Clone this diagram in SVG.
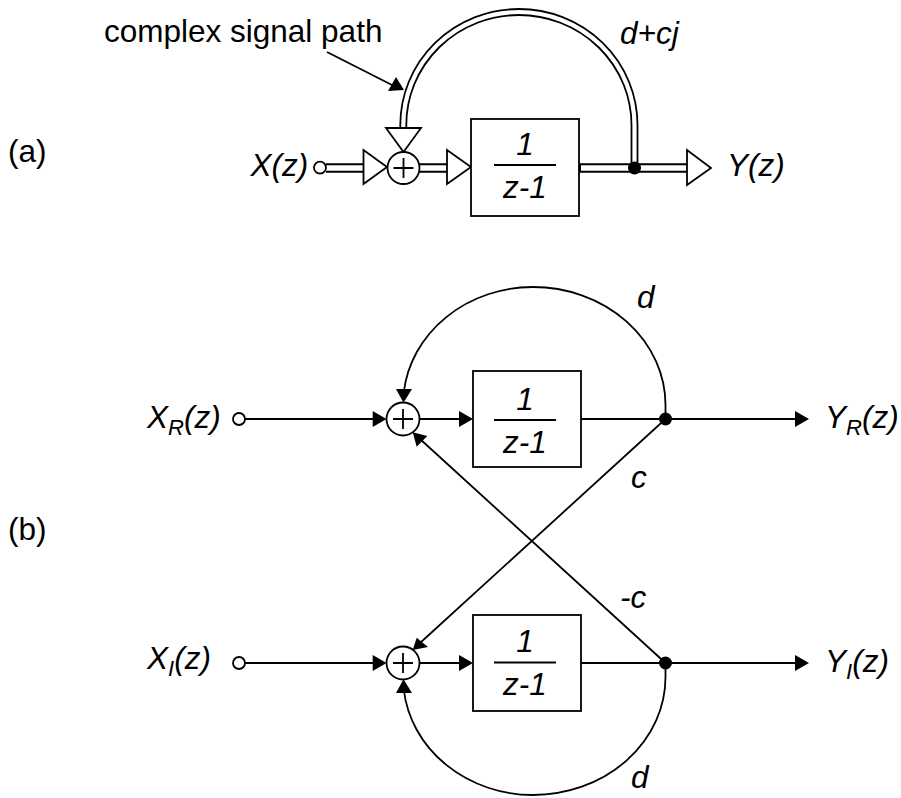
<svg xmlns="http://www.w3.org/2000/svg" width="901" height="798" viewBox="0 0 901 798">
<style>
text{font-family:"Liberation Sans",Arial,sans-serif;font-size:31.5px;fill:#000}
.i{font-style:italic}
.s{font-size:22px;font-style:italic}
.l{fill:none;stroke:#000;stroke-width:1.8}
.f{fill:#fff;stroke:#000;stroke-width:1.8}
.a{fill:#000;stroke:none}
.bh{fill:none;stroke:#000;stroke-width:9.5}
.wh{fill:none;stroke:#fff;stroke-width:5.5}
.ba{fill:none;stroke:#000;stroke-width:7.8}
.wa{fill:none;stroke:#fff;stroke-width:4.2}
</style>
<rect width="901" height="798" fill="#fff"/>
<g id="connectors">
<path class="bh" d="M326 168H364M419 168H448M579 168H688"/>
<path class="wh" d="M324 168H364M419 168H448M581 168H688"/>
<path class="ba" d="M403.300 129V125A115.600 113 0 0 1 634.500 125V168"/>
<path class="wa" d="M403.300 129V125A115.600 113 0 0 1 634.500 125V164"/>
<path class="l" d="M327 52L392 85"/>
<polygon class="a" points="404,90 388,91 396,77"/>
<path class="l" d="M245 419H375M420 419H460M581 419H797M245 663H375M420 663H460M581 663H797"/>
<path class="l" d="M665.500 419V405A132.500 118 0 0 0 533 287A130 118 0 0 0 403.800 392"/>
<path class="l" d="M665.500 663V677A132.500 118 0 0 1 533 795A130 118 0 0 1 403.800 690"/>
<path class="l" d="M665.500 419L420 643M665.500 663L420 439"/>
<polygon class="a" points="372.700,411 372.700,427 386.500,419"/>
<polygon class="a" points="459,411 459,427 473,419"/>
<polygon class="a" points="795,411 795,427 809,419"/>
<polygon class="a" points="372.700,655 372.700,671 386.500,663"/>
<polygon class="a" points="459,655 459,671 473,663"/>
<polygon class="a" points="795,655 795,671 809,663"/>
<polygon class="a" points="396,389 412,389 403.500,402.700"/>
<polygon class="a" points="396,693 412,693 403.500,679.300"/>
<polygon class="a" points="412.700,432.300 427.300,436 416.700,446.700"/>
<polygon class="a" points="412.700,650 428,647 416.700,637.700"/>
</g>
<g id="node-a-sum">
<polygon class="f" points="363.500,150 363.500,184 387,167"/>
<polygon class="f" points="386,128 421,128 403.500,152"/>
<polygon class="f" points="447,150 447,184 471,167"/>
<circle class="f" cx="403.500" cy="168" r="16"/>
<path class="l" d="M393.500 168H413.500M403.500 158V178"/>
</g>
<g id="node-a-in"><circle class="f" cx="320" cy="167.700" r="6"/></g>
<g id="node-a-box">
<rect class="f" x="471" y="119" width="108" height="97"/>
<path class="l" d="M494 165H556"/>
<text class="i" x="525" y="155" text-anchor="middle">1</text>
<text class="i" x="525" y="198" text-anchor="middle">z-1</text>
</g>
<g id="node-a-out">
<circle class="a" cx="634.500" cy="168" r="6.500"/>
<polygon class="f" points="687,150 687,185 711,168"/>
</g>
<g id="node-b1-in"><circle class="f" cx="239" cy="419" r="6"/></g>
<g id="node-b1-sum"><circle class="f" cx="403" cy="419" r="16.500"/><path class="l" d="M393 419H413M403 409V429"/></g>
<g id="node-b1-box">
<rect class="f" x="473" y="371" width="108" height="96"/>
<path class="l" d="M494 420H556"/>
<text class="i" x="525" y="410" text-anchor="middle">1</text>
<text class="i" x="525" y="453" text-anchor="middle">z-1</text>
</g>
<g id="node-b1-out"><circle class="a" cx="665.500" cy="419" r="6.500"/></g>
<g id="node-b2-in"><circle class="f" cx="239" cy="663" r="6"/></g>
<g id="node-b2-sum"><circle class="f" cx="403" cy="663" r="16.500"/><path class="l" d="M393 663H413M403 653V673"/></g>
<g id="node-b2-box">
<rect class="f" x="473" y="615" width="108" height="96"/>
<path class="l" d="M494 662.500H556"/>
<text class="i" x="525" y="652" text-anchor="middle">1</text>
<text class="i" x="525" y="695" text-anchor="middle">z-1</text>
</g>
<g id="node-b2-out"><circle class="a" cx="665.500" cy="663" r="6.500"/></g>
<g id="labels">
<text x="104" y="42">complex signal path</text>
<text class="i" x="620" y="44">d+cj</text>
<text x="8" y="162">(a)</text>
<text x="8" y="540">(b)</text>
<text class="i" x="250.500" y="176">X(z)</text>
<text class="i" x="727" y="176">Y(z)</text>
<text class="i" x="147" y="428">X<tspan class="s" dy="7">R</tspan><tspan dy="-7">(z)</tspan></text>
<text class="i" x="147" y="669">X<tspan class="s" dy="7">I</tspan><tspan dy="-7">(z)</tspan></text>
<text class="i" x="825" y="428">Y<tspan class="s" dy="7">R</tspan><tspan dy="-7">(z)</tspan></text>
<text class="i" x="825" y="672">Y<tspan class="s" dy="7">I</tspan><tspan dy="-7">(z)</tspan></text>
<text class="i" x="637" y="308">d</text>
<text class="i" x="631" y="488">c</text>
<text class="i" x="620" y="608">-c</text>
<text class="i" x="631" y="788">d</text>
</g>
</svg>
